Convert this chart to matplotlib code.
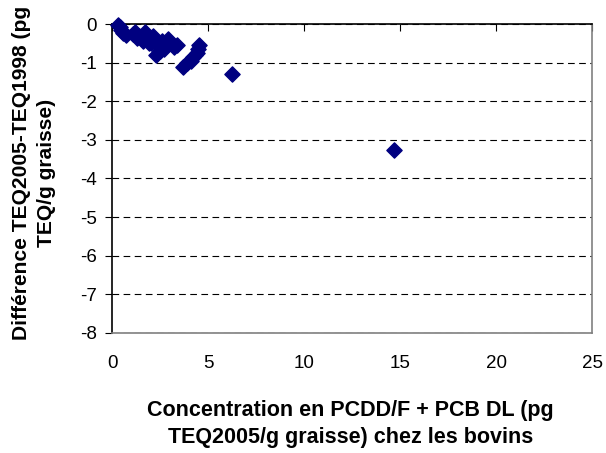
import matplotlib
matplotlib.use("Agg")
import matplotlib.pyplot as plt

plt.rcParams['font.family'] = ['Liberation Sans', 'DejaVu Sans']
plt.rcParams['axes.unicode_minus'] = False

# concentration PCDD/F + PCB DL (pg TEQ2005/g graisse)
conc = [0.3, 0.4, 0.45, 0.55, 0.7, 1.1, 1.2, 1.4, 1.5, 1.7, 1.8, 1.9, 2.0,
        2.1, 2.2, 2.3, 2.5, 2.6, 2.8, 3.0, 3.2, 3.4, 2.3, 2.5, 2.7,
        3.7, 3.9, 4.1, 4.2, 4.3, 4.4, 4.45, 4.5, 6.25, 14.7,
        1.3, 1.6, 1.75, 2.0, 2.15, 2.4, 1.9, 2.9]
# difference TEQ2005 - TEQ1998
diff = [-0.02, -0.08, -0.15, -0.22, -0.28, -0.25, -0.2, -0.3, -0.35, -0.2, -0.3,
        -0.4, -0.35, -0.45, -0.4, -0.5, -0.5, -0.45, -0.55, -0.5, -0.6, -0.55,
        -0.8, -0.7, -0.65, -1.12, -1.0, -0.95, -0.85, -0.8, -0.75, -0.65, -0.55,
        -1.3, -3.25,
        -0.35, -0.45, -0.25, -0.5, -0.3, -0.55, -0.5, -0.4]

fig = plt.figure(figsize=(6.06, 4.53), dpi=100)
ax = fig.add_axes([0.185, 0.265, 0.792, 0.682])

ax.scatter(conc, diff, marker='D', s=60, color='#000080', zorder=3, clip_on=False)

ax.set_xlim(0, 25)
ax.set_ylim(-8, 0)
ax.set_xticks(range(0, 26, 5))
ax.set_yticks(range(-8, 1))
ax.yaxis.grid(True, linestyle=(0, (6, 4)), color='black', linewidth=0.8)

ax.xaxis.set_ticks_position('top')
ax.tick_params(axis='x', direction='in', length=5, labeltop=False, labelbottom=True,
               labelsize=13.5, pad=16)
ax.tick_params(axis='y', direction='out', length=5, labelsize=13.5, pad=6)

ax.spines['top'].set_color('black')
ax.spines['left'].set_color('black')
ax.spines['right'].set_color('#808080')
ax.spines['bottom'].set_color('#808080')
for s in ax.spines.values():
    s.set_linewidth(1.2)

fig.text(0.056, 0.618, "Différence TEQ2005-TEQ1998 (pg\nTEQ/g graisse)",
         rotation=90, ha='center', va='center', fontsize=15.1, fontweight='bold',
         linespacing=1.42)
fig.text(0.578, 0.064, "Concentration en PCDD/F + PCB DL (pg\nTEQ2005/g graisse) chez les bovins",
         ha='center', va='center', fontsize=15.5, fontweight='bold', linespacing=1.42)

fig.savefig("out.png", dpi=100)
